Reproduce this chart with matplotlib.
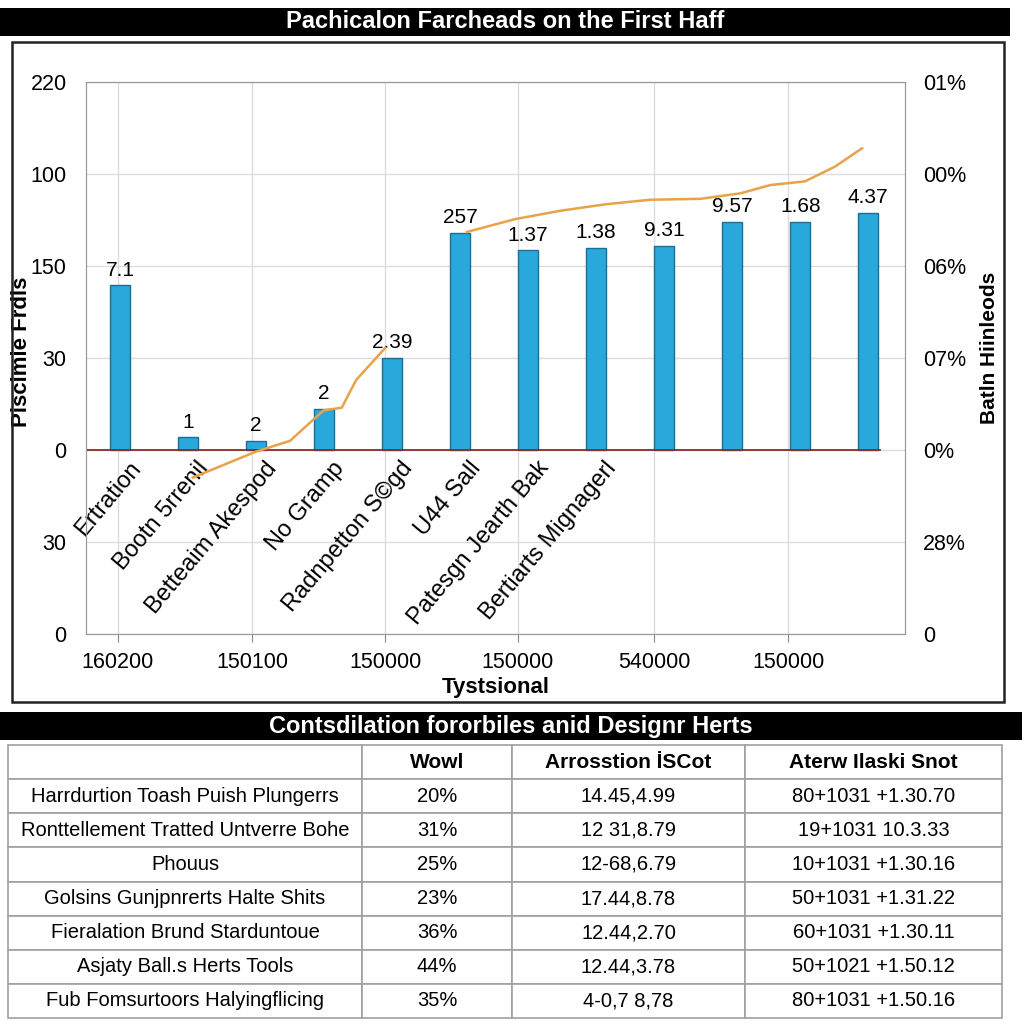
"""
Bar + line chart with a summary table underneath
"""

import numpy as np
import matplotlib

matplotlib.use("Agg")
import matplotlib.pyplot as plt  # noqa:E402
from matplotlib.patches import Rectangle  # noqa:E402

# chart data
categories = [
    "Ertration",
    "Bootn 5rrenil",
    "Betteaim Akespod",
    "No Gramp",
    "Radnpetton S©gd",
    "U44 Sall",
    "Patesgn Jearth Bak",
    "Bertiarts Mignagerl",
    "",
    "",
    "",
    "",
]
bar_values = [1.79, 0.14, 0.10, 0.45, 1.0, 2.36, 2.17, 2.20, 2.22, 2.48, 2.48, 2.58]
bar_labels = ["7.1", "1", "2", "2", "2.39", "257", "1.37", "1.38", "9.31", "9.57", "1.68", "4.37"]

# trend line (nan = break in the line)
line_pos = [1.07, 1.99, 2.5, 2.99, 3.26, 3.47, 3.90, np.nan,
            5.10, 5.81, 6.47, 7.13, 7.79, 8.53, 9.12, 9.56, 10.07, 10.51, 10.91]
line_vals = [-0.30, -0.02, 0.10, 0.43, 0.46, 0.76, 1.11, np.nan,
             2.37, 2.51, 2.60, 2.67, 2.72, 2.73, 2.79, 2.88, 2.92, 3.08, 3.28]

left_ticklabels = ["0", "30", "0", "30", "150", "100", "220"]
right_ticklabels = ["0", "28%", "0%", "07%", "06%", "00%", "01%"]
bottom_ticklabels = ["160200", "150100", "150000", "150000", "540000", "150000"]
bottom_tickpos = [-0.03, 1.94, 3.90, 5.85, 7.85, 9.82]

# table data
table_header = ["", "Wowl", "Arrosstion İSCot", "Aterw Ilaski Snot"]
table_names = [
    "Harrdurtion Toash Puish Plungerrs",
    "Ronttellement Tratted Untverre Bohe",
    "Phouus",
    "Golsins Gunjpnrerts Halte Shits",
    "Fieralation Brund Starduntoue",
    "Asjaty Ball.s Herts Tools",
    "Fub Fomsurtoors Halyingflicing",
]
table_share = ["20%", "31%", "25%", "23%", "36%", "44%", "35%"]
table_cost = ["14.45,4.99", "12 31,8.79", "12-68,6.79", "17.44,8.78",
              "12.44,2.70", "12.44,3.78", "4-0,7 8,78"]
table_snot = ["80+1031 +1.30.70", "19+1031 10.3.33", "10+1031 +1.30.16",
              "50+1031 +1.31.22", "60+1031 +1.30.11", "50+1021 +1.50.12",
              "80+1031 +1.50.16"]

ARIAL = ["Liberation Sans", "DejaVu Sans"]
BAR_COLOR = "#29a8dc"
BAR_EDGE = "#1b6f96"
LINE_COLOR = "#e8a24a"


def px(x, y, w, h):
    """pixel box (top-left origin) -> figure fraction rect"""
    return [x / 1024, 1 - (y + h) / 1024, w / 1024, h / 1024]


def main():
    plt.rcParams["font.family"] = ARIAL
    fig = plt.figure(figsize=(10.24, 10.24), dpi=100)
    fig.patch.set_facecolor("white")

    # header bars
    for (x, y, w, h), text in [((0, 8, 1010, 28), "Pachicalon Farcheads on the First Haff"),
                               ((0, 712, 1022, 28), "Contsdilation fororbiles anid Designr Herts")]:
        r = px(x, y, w, h)
        fig.patches.append(Rectangle((r[0], r[1]), r[2], r[3], transform=fig.transFigure,
                                     facecolor="black", edgecolor="none"))
        fig.text(r[0] + r[2] / 2, r[1] + r[3] / 2, text, color="white", fontsize=17,
                 fontweight="bold", ha="center", va="center")

    # chart frame
    r = px(12, 42, 992, 660)
    fig.patches.append(Rectangle((r[0], r[1]), r[2], r[3], transform=fig.transFigure,
                                 facecolor="none", edgecolor="#222222", linewidth=1.8))

    ax = fig.add_axes(px(86, 82, 819, 552))
    x = np.arange(len(bar_values))
    ax.bar(x, bar_values, width=0.3, color=BAR_COLOR, edgecolor=BAR_EDGE,
           linewidth=1.0, zorder=3)
    for xi, v, lab in zip(x, bar_values, bar_labels):
        ax.text(xi, v + 0.06, lab, ha="center", va="bottom", fontsize=15, zorder=4)
    ax.plot(line_pos, line_vals, color=LINE_COLOR, linewidth=1.8, zorder=4)
    ax.axhline(0, xmin=0, xmax=0.97, color="#8b2a2a", linewidth=1.3, zorder=3)

    for xi, name in zip(x, categories):
        if name:
            ax.text(xi + 0.12, -0.08, name, rotation=50, rotation_mode="anchor",
                    ha="right", va="top", fontsize=17)

    ax.set_xlim(-0.5, 11.54)
    ax.set_ylim(-2, 4)
    ax.set_yticks(range(-2, 5))
    ax.set_yticklabels(left_ticklabels, fontsize=15.5)
    ax.set_xticks(bottom_tickpos)
    ax.set_xticklabels(bottom_ticklabels, fontsize=15.5)
    ax.tick_params(axis="y", length=0, pad=14)
    ax.tick_params(axis="x", length=6, color="#888888", pad=7)
    ax.grid(True, color="#dcdcdc", linewidth=1.0, zorder=0)
    for s in ax.spines.values():
        s.set_color("#999999")
    ax.set_ylabel("Piscimie Frdls", fontsize=16, fontweight="bold")
    ax.yaxis.set_label_coords(-0.066, 0.512)
    ax.set_xlabel("Tystsional", fontsize=16, fontweight="bold", labelpad=3)

    ax2 = ax.twinx()
    ax2.set_ylim(-2, 4)
    ax2.set_yticks(range(-2, 5))
    ax2.set_yticklabels(right_ticklabels, fontsize=15.5)
    ax2.tick_params(axis="y", length=0, pad=13)
    for s in ax2.spines.values():
        s.set_color("#999999")
    ax2.set_ylabel("Batln Hiinleods", fontsize=15, fontweight="bold")
    ax2.yaxis.set_label_coords(1.092, 0.518)

    # table
    tax = fig.add_axes(px(8, 745, 994, 273))
    tax.axis("off")
    rows = [list(row) for row in zip(table_names, table_share, table_cost, table_snot)]
    widths = np.array([354, 150, 233, 257]) / 994
    tbl = tax.table(cellText=rows, colLabels=table_header, colWidths=widths,
                    cellLoc="center", bbox=[0, 0, 1, 1])
    tbl.auto_set_font_size(False)
    for (row, col), cell in tbl.get_celld().items():
        cell.set_edgecolor("#a0a0a0")
        cell.set_linewidth(1.2)
        txt = cell.get_text()
        if row == 0:
            txt.set_fontsize(15)
            txt.set_fontweight("bold")
        else:
            txt.set_fontsize(14.5)

    fig.savefig("out.png", dpi=100)
    plt.close(fig)


if __name__ == "__main__":
    main()
